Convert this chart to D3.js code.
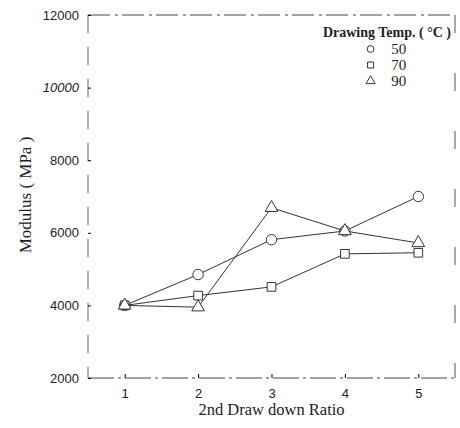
<!DOCTYPE html>
<html>
<head>
<meta charset="utf-8">
<script src="https://cdn.jsdelivr.net/npm/d3@7"></script>
<style>
  body { margin: 0; background: #fff; }
  text { fill: #222; }
</style>
</head>
<body>
<div id="graph"></div>
<script>
// values
var ratios = [1, 2, 3, 4, 5];
var temps = ["50", "70", "90"];
var mod50 = [4000, 4850, 5810, 6050, 7000];
var mod70 = [4000, 4270, 4510, 5420, 5450];
var mod90 = [4000, 3950, 6690, 6050, 5720];
var yTicks = [2000, 4000, 6000, 8000, 10000, 12000];
var shapes = ["circle", "square", "triangle"];

var series = [mod50, mod70, mod90];

var margin = {top: 15, right: 3, bottom: 50, left: 88},
    width = 460 - margin.left - margin.right,
    height = 428 - margin.top - margin.bottom;

var svg = d3.select("#graph")
  .append("svg")
    .attr("width", 460)
    .attr("height", 428)
  .append("g")
    .attr("transform", "translate(" + margin.left + "," + margin.top + ")");

var x = d3.scaleLinear().domain([0.5, 5.5]).range([0, width - 2]);
var y = d3.scaleLinear().domain([2000, 12000]).range([363, 0]);

// frame, scanned-looking
svg.append("line").attr("x1", 0).attr("x2", width - 2).attr("y1", y(12000)).attr("y2", y(12000))
  .attr("stroke", "#444").attr("stroke-dasharray", "22,5,3,4");
svg.append("line").attr("x1", 0).attr("x2", width - 2).attr("y1", y(2000)).attr("y2", y(2000))
  .attr("stroke", "#444").attr("stroke-dasharray", "26,4,3,4");
svg.append("line").attr("x1", 0).attr("x2", 0).attr("y1", y(12000)).attr("y2", y(2000))
  .attr("stroke", "#666").attr("stroke-dasharray", "18,14");
svg.append("line").attr("x1", width - 2).attr("x2", width - 2).attr("y1", y(12000)).attr("y2", y(2000))
  .attr("stroke", "#555").attr("stroke-dasharray", "18,40");

// y axis
var yAxis = svg.append("g")
  .call(d3.axisLeft(y).tickValues(yTicks).tickSize(-3).tickPadding(9).tickFormat(d3.format("d")));
yAxis.select(".domain").remove();
yAxis.selectAll("text")
  .style("font-family", "Liberation Sans, Arial, sans-serif")
  .style("font-size", "13px")
  .style("font-style", function(d) { return d == 10000 ? "italic" : "normal"; });

// x axis
var xAxis = svg.append("g")
  .attr("transform", "translate(0," + y(2000) + ")")
  .call(d3.axisBottom(x).tickValues(ratios).tickSize(-4).tickPadding(11).tickFormat(d3.format("d")));
xAxis.select(".domain").remove();
xAxis.selectAll("text")
  .style("font-family", "Liberation Sans, Arial, sans-serif")
  .style("font-size", "13px");

// axis labels
svg.append("text")
  .attr("x", x(3))
  .attr("y", y(2000) + 37)
  .style("text-anchor", "middle")
  .style("font-family", "Liberation Serif, Times New Roman, serif")
  .style("font-size", "16.5px")
  .text("2nd Draw down Ratio");

svg.append("text")
  .attr("transform", "rotate(-90)")
  .attr("x", -(195 - margin.top))
  .attr("y", -57)
  .style("text-anchor", "middle")
  .style("font-family", "Liberation Serif, Times New Roman, serif")
  .style("font-size", "17px")
  .text("Modulus ( MPa )");

var line = d3.line()
  .x(function(d, i) { return x(ratios[i]); })
  .y(function(d) { return y(d); });

function symbolPath(shape) {
  if (shape == "circle") return d3.symbol().type(d3.symbolCircle).size(85)();
  if (shape == "square") return d3.symbol().type(d3.symbolSquare).size(75)();
  return d3.symbol().type(d3.symbolTriangle).size(70)();
}

series.forEach(function(vals, k) {
  svg.append("path")
    .datum(vals)
    .attr("d", line)
    .attr("fill", "none")
    .attr("stroke", "#333")
    .attr("stroke-width", 1);
  svg.selectAll(".pt" + k)
    .data(vals)
    .enter()
    .append("path")
      .attr("class", "pt" + k)
      .attr("d", symbolPath(shapes[k]))
      .attr("transform", function(d, i) { return "translate(" + x(ratios[i]) + "," + y(d) + ")"; })
      .attr("fill", "#fff")
      .attr("stroke", "#333")
      .attr("stroke-width", 1);
});

// legend
svg.append("text")
  .attr("x", width - 6)
  .attr("y", 22)
  .style("text-anchor", "end")
  .style("font-family", "Liberation Serif, Times New Roman, serif")
  .style("font-size", "14px")
  .style("font-weight", "bold")
  .text("Drawing Temp. ( °C )");

temps.forEach(function(t, k) {
  var ly = 39 + k * 16;
  svg.append("path")
    .attr("d", d3.symbol().type(k == 0 ? d3.symbolCircle : k == 1 ? d3.symbolSquare : d3.symbolTriangle).size(36)())
    .attr("transform", "translate(" + (x(4.35)) + "," + (ly - 5) + ")")
    .attr("fill", "#fff")
    .attr("stroke", "#333");
  svg.append("text")
    .attr("x", x(4.63))
    .attr("y", ly)
    .style("font-family", "Liberation Serif, Times New Roman, serif")
    .style("font-size", "15px")
    .text(t);
});
</script>
</body>
</html>
